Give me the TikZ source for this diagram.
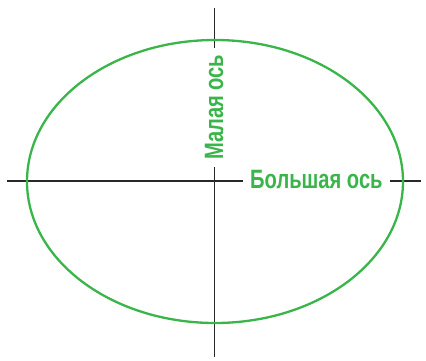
\documentclass[tikz,border=0pt]{standalone}
\usepackage{fontspec}
\newfontfamily\axisfont[FakeStretch=0.76]{Liberation Sans}
\definecolor{ellgreen}{RGB}{57,181,74}
\definecolor{axisgray}{RGB}{40,40,40}

\begin{document}
\begin{tikzpicture}[x=1pt, y=1pt,
    axis/.style={draw=axisgray, line width=1.6pt},
    ell/.style={draw=ellgreen, line width=2.3pt},
    lbl/.style={fill=white, text=ellgreen, inner xsep=7pt, inner ysep=2pt,
                font=\axisfont\bfseries\fontsize{26.5}{30}\selectfont}
]
    \useasboundingbox (0,0) rectangle (426,360);

    \coordinate (west)  at (7,179);
    \coordinate (east)  at (421,179);
    \coordinate (north) at (214.5,352);
    \coordinate (south) at (214.5,3);

    \draw[axis] (west) -- (east);
    \draw[axis] (north) -- (south);
    \draw[ell] (215,178.5) ellipse [x radius=188, y radius=141.5];

    \node[lbl, anchor=base west] (major) at (243,172) {Большая ось};
    \node[lbl, anchor=base west, rotate=90] (minor) at (223,193) {Малая ось};
\end{tikzpicture}
\end{document}
